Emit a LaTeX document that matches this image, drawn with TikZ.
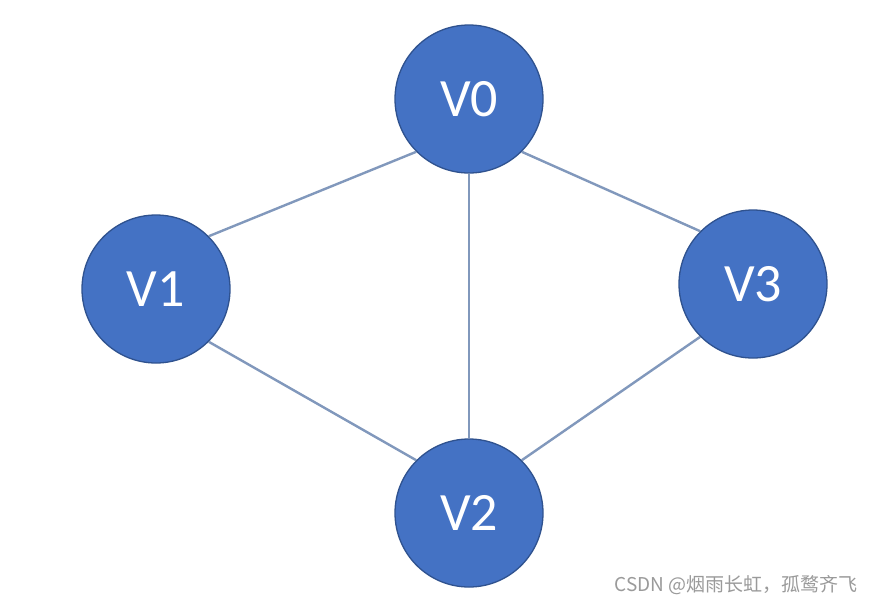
\documentclass[tikz,border=0pt]{standalone}
\usepackage{fontspec}
\setmainfont{Carlito}
\newfontfamily\cjk{Noto Sans CJK SC}
\definecolor{nodefill}{HTML}{4472C4}
\definecolor{nodeedge}{HTML}{2F528F}
\definecolor{linkc}{HTML}{8198BC}
\definecolor{markc}{HTML}{9A9A9A}
\tikzset{
  vertex/.style={circle, fill=nodefill, draw=nodeedge, line width=1.3pt, minimum size=148pt, inner sep=0pt, text=white, font=\fontsize{54}{54}\selectfont},
  link/.style={draw=linkc, line width=2.4pt},
}
\begin{document}
\begin{tikzpicture}[x=1pt,y=-1pt]
\useasboundingbox (0,0) rectangle (872,606);
\fill[white] (0,0) rectangle (872,606);
\node[vertex] (v0) at (469,99) {V0};
\node[vertex] (v1) at (156,289) {V1};
\node[vertex] (v3) at (753,284) {V3};
\node[vertex] (v2) at (469,513) {V2};
\draw[link] (v1.north east) -- (v0.south west);
\draw[link] (v0.south east) -- (v3.north west);
\draw[link] (v0.south) -- (v2.north);
\draw[link] (v1.south east) -- (v2.north west);
\draw[link] (v3.south west) -- (v2.north east);
\node[anchor=east, text=markc, font=\cjk\fontsize{19}{19}\selectfont, inner sep=0pt] (wm) at (858,585) {CSDN @烟雨长虹，孤鹜齐飞};
\end{tikzpicture}
\end{document}
